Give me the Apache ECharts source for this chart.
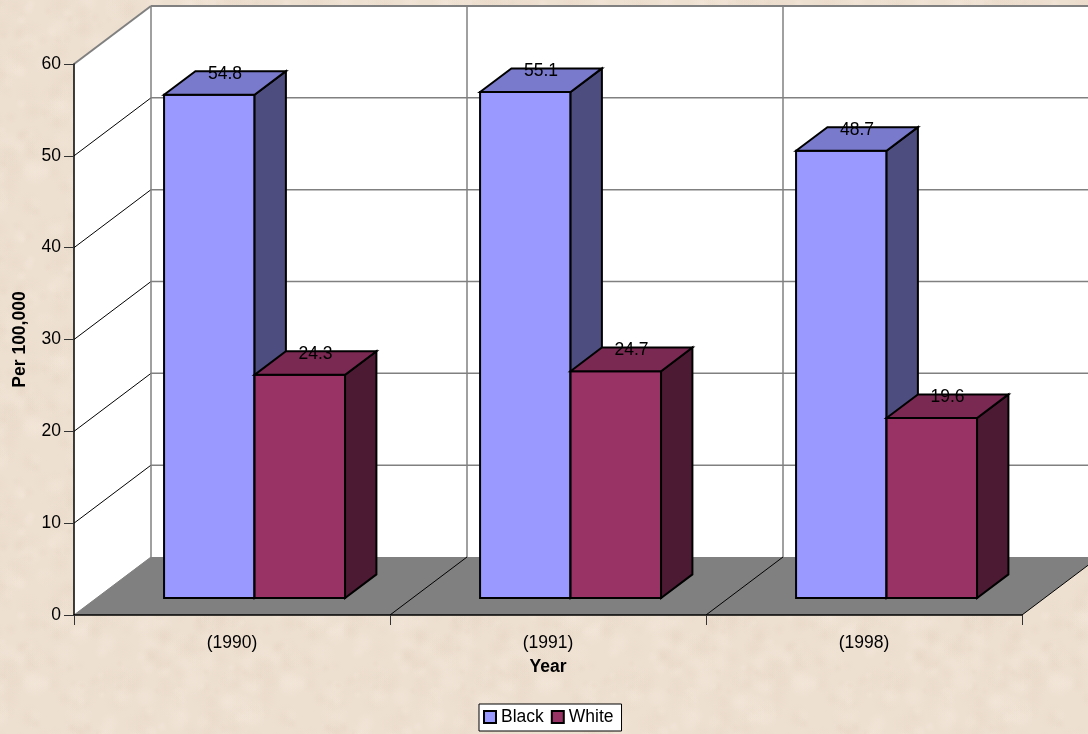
<!DOCTYPE html>
<html>
<head>
<meta charset="utf-8">
<style>html,body{margin:0;padding:0;background:#efdfd0}#c{width:1088px;height:734px}</style>
<script src="https://cdn.jsdelivr.net/npm/echarts@6/dist/echarts.min.js"></script>
</head>
<body>
<div id="c"></div>
<script>
const categories = ['(1990)', '(1991)', '(1998)'];
const blackValues = [54.8, 55.1, 48.7];
const whiteValues = [24.3, 24.7, 19.6];
const yTicks = [0, 10, 20, 30, 40, 50, 60];

const FONT = '"Liberation Sans", Arial, sans-serif';
const WALL_DX = 77, WALL_DY = -58;
const BAR_FRONT = 0.293, BAR_BACK = 0.70, BAR_FRAC = 0.2864;

function textureTile() {
  const size = 256;
  const cv = document.createElement('canvas');
  cv.width = cv.height = size;
  const g = cv.getContext('2d');
  g.fillStyle = '#eee0d1';
  g.fillRect(0, 0, size, size);
  let seed = 12345;
  const next = () => (seed = (seed * 1103515245 + 12345) & 0x7fffffff) / 0x7fffffff;
  const tints = ['rgba(222,204,184,0.20)', 'rgba(248,238,226,0.25)', 'rgba(228,212,192,0.18)'];
  for (let i = 0; i < 420; i++) {
    const x = next() * size, y = next() * size, r = 4 + next() * 11;
    const tint = tints[i % 3];
    for (let ox = -size; ox <= size; ox += size) for (let oy = -size; oy <= size; oy += size) {
      const grad = g.createRadialGradient(x + ox, y + oy, 0, x + ox, y + oy, r);
      grad.addColorStop(0, tint);
      grad.addColorStop(1, tint.replace(/[\d.]+\)$/, '0)'));
      g.fillStyle = grad;
      g.fillRect(x + ox - r, y + oy - r, 2 * r, 2 * r);
    }
  }
  return cv;
}

const poly = (pts, fill, stroke, lw) => ({
  type: 'polygon', shape: { points: pts },
  style: { fill: fill, stroke: stroke || null, lineWidth: lw || 0, lineJoin: 'miter' }
});
const seg = (a, b, stroke, lw) => ({
  type: 'line', shape: { x1: a[0], y1: a[1], x2: b[0], y2: b[1] },
  style: { stroke: stroke, lineWidth: lw }
});

function renderWalls(params, api) {
  const o = api.coord([0, 0]);
  const catW = api.size([1, 0])[0];
  const n = categories.length;
  const x0 = o[0] - catW / 2, x1 = x0 + catW * n;
  const y0 = o[1], yTop = api.coord([0, yTicks[yTicks.length - 1]])[1];
  const bx = WALL_DX, by = WALL_DY;
  const kids = [
    poly([[x0 + bx, yTop + by], [x1 + bx, yTop + by], [x1 + bx, y0 + by], [x0 + bx, y0 + by]], '#ffffff'),
    poly([[x0, yTop], [x0 + bx, yTop + by], [x0 + bx, y0 + by], [x0, y0]], '#ffffff'),
    poly([[x0, y0], [x1, y0], [x1 + bx, y0 + by], [x0 + bx, y0 + by]], '#808080')
  ];
  yTicks.forEach((t, i) => {
    const y = api.coord([0, t])[1];
    const last = i === yTicks.length - 1;
    if (i > 0) kids.push(seg([x0 + bx, y + by], [x1 + bx, y + by], '#808080', last ? 2 : 1.5));
    kids.push(seg([x0, y], [x0 + bx, y + by], (last || i === 0) ? '#808080' : '#000000', last ? 2 : 1));
  });
  for (let i = 0; i <= n; i++) {
    const x = x0 + catW * i;
    kids.push(seg([x + bx, yTop + by], [x + bx, y0 + by], '#808080', 1.5));
    if (i > 0) kids.push(seg([x, y0], [x + bx, y0 + by], '#000000', 1));
  }
  return { type: 'group', children: kids };
}

function barRenderer(sideSign, faces) {
  return function (params, api) {
    const i = api.value(0), v = api.value(1);
    const c = api.coord([i, v]), b = api.coord([i, 0]);
    const catW = api.size([1, 0])[0];
    const w = catW * BAR_FRAC;
    const fx = WALL_DX * BAR_FRONT, fy = WALL_DY * BAR_FRONT;
    const dx = WALL_DX * (BAR_BACK - BAR_FRONT), dy = WALL_DY * (BAR_BACK - BAR_FRONT);
    const l = c[0] + fx + (sideSign < 0 ? -w : 0), r = l + w;
    const t = c[1] + fy, bot = b[1] + fy;
    return {
      type: 'group',
      children: [
        poly([[l, t], [r, t], [r, bot], [l, bot]], faces[0], '#000000', 2),
        poly([[r, t], [r + dx, t + dy], [r + dx, bot + dy], [r, bot]], faces[1], '#000000', 2),
        poly([[l, t], [l + dx, t + dy], [r + dx, t + dy], [r, t]], faces[2], '#000000', 2),
        {
          type: 'text', z2: 50,
          style: {
            text: String(v), x: (l + r) / 2 + dx / 2, y: t - 21,
            align: 'center', verticalAlign: 'middle',
            font: '17.5px ' + FONT, fill: '#000000'
          }
        }
      ]
    };
  };
}

const chart = echarts.init(document.getElementById('c'), null, { width: 1088, height: 734 });
chart.setOption({
  animation: false,
  backgroundColor: { image: textureTile(), repeat: 'repeat' },
  textStyle: { fontFamily: FONT },
  grid: { left: 74, right: 66, top: 64, bottom: 119, containLabel: false, outerBoundsMode: 'none' },
  legend: {
    data: ['Black', 'White'], left: 479, top: 704,
    orient: 'horizontal', icon: 'rect',
    itemWidth: 12, itemHeight: 12, itemGap: 7,
    padding: [4, 8, 5, 4],
    backgroundColor: '#ffffff', borderColor: '#000000', borderWidth: 1,
    textStyle: { fontFamily: FONT, fontSize: 17.5, color: '#000000' }
  },
  xAxis: {
    type: 'category', data: categories, z: 10,
    name: 'Year', nameLocation: 'middle', nameGap: 43,
    nameTextStyle: { fontFamily: FONT, fontSize: 17.5, fontWeight: 'bold', color: '#000' },
    axisLine: { lineStyle: { color: '#000', width: 1.5 } },
    axisTick: { show: true, length: 10, alignWithLabel: false, lineStyle: { color: '#333', width: 1 } },
    axisLabel: { fontFamily: FONT, fontSize: 17.5, color: '#000', margin: 19 },
    splitLine: { show: false }
  },
  yAxis: {
    type: 'value', min: 0, max: 60, interval: 10, z: 10,
    name: 'Per 100,000', nameLocation: 'middle', nameGap: 45,
    nameTextStyle: { fontFamily: FONT, fontSize: 17.5, fontWeight: 'bold', color: '#000' },
    axisLine: { show: true, lineStyle: { color: '#000', width: 1.5 } },
    axisTick: { show: true, length: 10, lineStyle: { color: '#333', width: 1 } },
    axisLabel: { fontFamily: FONT, fontSize: 17.5, color: '#000', margin: 13, padding: [2, 0, 0, 0] },
    splitLine: { show: false }
  },
  series: [
    { type: 'custom', name: 'walls', silent: true, clip: false, renderItem: renderWalls, data: [[0, 0]], encode: { x: 0, y: 1 } },
    { type: 'custom', name: 'Black', clip: false, renderItem: barRenderer(-1, ['#9999ff', '#4d4d80', '#7a7acc']),
      itemStyle: { color: '#9999ff', borderColor: '#000', borderWidth: 1.5 },
      data: blackValues.map((v, i) => [i, v]), encode: { x: 0, y: 1 } },
    { type: 'custom', name: 'White', clip: false, renderItem: barRenderer(1, ['#993366', '#4d1a33', '#7a2952']),
      itemStyle: { color: '#993366', borderColor: '#000', borderWidth: 1.5 },
      data: whiteValues.map((v, i) => [i, v]), encode: { x: 0, y: 1 } }
  ]
});
</script>
</body>
</html>
